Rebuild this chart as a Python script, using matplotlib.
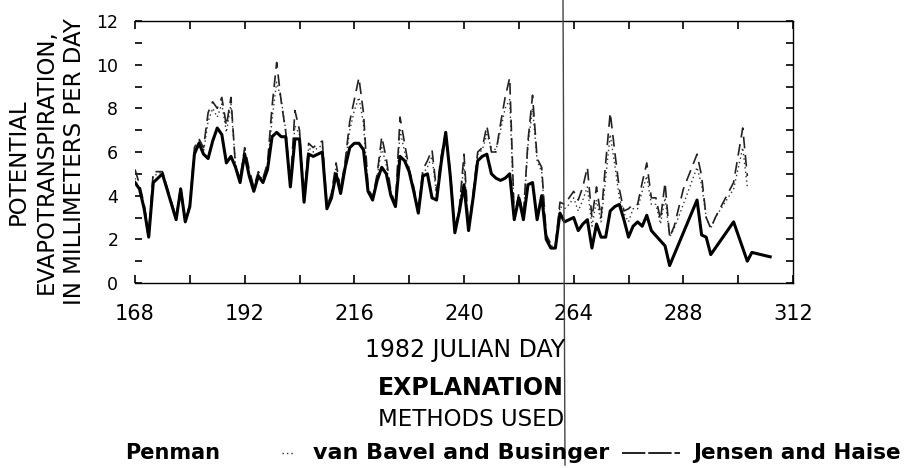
import matplotlib
matplotlib.use("Agg")
import matplotlib.pyplot as plt
from matplotlib.lines import Line2D
from matplotlib.ticker import MultipleLocator

plt.rcParams['font.family'] = ['DejaVu Sans']

# ---------------- data ----------------
jh_days = [168, 169, 170, 171, 172, 173, 174, 175, 176, 177, 178, 179, 180, 181, 182,
           183, 184, 185, 186, 187, 188, 189, 190, 191, 192, 193, 194, 195, 196, 197,
           198, 199, 200, 201, 202, 203, 204, 205, 206, 207, 208, 209, 210, 211, 212,
           213, 214, 215, 216, 217, 218, 219, 220, 221, 222, 223, 224, 225, 226, 227,
           228, 229, 230, 231, 232, 233, 234, 235, 236, 237, 238, 239, 240, 241, 242,
           243, 244, 245, 246, 247, 248, 249, 250, 251, 252, 253, 254, 255, 256, 257,
           258, 259, 260, 261, 262, 263, 264, 265, 266, 267, 268, 269, 270, 271, 272,
           273, 274, 275, 276, 277, 278, 279, 280, 281, 284, 285, 291, 292, 293, 294,
           299, 302, 303, 307]
jensen_haise = [4.6, 4.3, 3.4, 2.1, 4.6, 4.8, 5.0, 4.3, 3.6, 2.9, 4.3, 2.8, 3.5, 5.9, 6.4,
                5.9, 5.7, 6.5, 7.1, 6.8, 5.5, 5.8, 5.3, 4.6, 5.9, 4.9, 4.2, 4.9, 4.6, 5.2,
                6.7, 6.9, 6.7, 6.7, 4.4, 6.6, 6.6, 3.7, 5.9, 5.8, 5.9, 6.0, 3.4, 3.9, 5.0,
                4.1, 5.3, 6.2, 6.4, 6.4, 6.1, 4.2, 3.8, 4.7, 5.3, 5.0, 4.0, 3.5, 5.8, 5.6,
                5.1, 4.2, 3.2, 4.9, 5.0, 3.9, 3.8, 5.5, 6.9, 4.9, 2.3, 3.3, 4.5, 2.4, 3.9,
                5.6, 5.8, 5.9, 5.0, 4.8, 4.7, 4.8, 5.0, 2.9, 3.9, 2.9, 4.5, 4.6, 2.9, 4.0,
                2.0, 1.6, 1.6, 3.2, 2.8, 2.9, 3.0, 2.4, 2.7, 2.9, 1.6, 2.7, 2.1, 2.1, 3.3,
                3.5, 3.6, 2.9, 2.1, 2.6, 2.8, 2.6, 3.1, 2.4, 1.7, 0.8, 3.8, 2.2, 2.1, 1.3,
                2.8, 1.0, 1.4, 1.2]

other_days = [168, 169, 170, 171, 172, 173, 174, 175, 176, 177, 178, 179, 180, 181, 182,
              183, 184, 185, 186, 187, 188, 189, 190, 191, 192, 193, 194, 195, 196, 197,
              198, 199, 200, 201, 202, 203, 204, 205, 206, 207, 208, 209, 210, 211, 212,
              213, 214, 215, 216, 217, 218, 219, 220, 221, 222, 223, 224, 225, 226, 227,
              228, 229, 230, 231, 232, 233, 234, 235, 236, 237, 238, 239, 240, 241, 242,
              243, 244, 245, 246, 247, 248, 249, 250, 251, 252, 253, 254, 255, 256, 257,
              258, 259, 260, 261, 262, 263, 264, 265, 266, 267, 268, 269, 270, 271, 272,
              273, 274, 275, 276, 277, 278, 279, 280, 281, 282, 283, 284, 285, 286, 288,
              291, 292, 293, 294, 295, 299, 301, 302]
van_bavel = [5.2, 4.5, 3.6, 2.3, 5.1, 5.1, 5.1, 4.4, 3.7, 3.0, 4.4, 2.9, 3.6, 6.2, 6.6,
             6.2, 7.8, 8.3, 8.0, 8.5, 7.2, 8.5, 5.3, 4.8, 6.2, 5.2, 4.4, 5.1, 4.8, 5.5,
             8.1, 10.1, 8.3, 6.9, 4.5, 7.9, 7.0, 3.8, 6.4, 6.2, 6.4, 6.5, 3.5, 4.1, 5.5,
             4.3, 5.6, 7.4, 8.4, 9.4, 7.8, 4.4, 3.9, 5.0, 6.7, 5.7, 4.2, 3.6, 7.6, 6.4,
             5.2, 4.4, 3.3, 5.2, 5.6, 6.1, 4.2, 5.8, 6.9, 5.1, 2.4, 3.5, 5.9, 2.5, 4.1,
             6.0, 6.2, 7.2, 6.0, 6.0, 7.3, 8.5, 9.4, 3.0, 4.1, 3.1, 6.5, 8.6, 5.7, 5.3,
             2.2, 1.8, 1.7, 3.7, 3.6, 3.9, 4.2, 3.8, 4.4, 5.3, 3.0, 4.4, 3.0, 5.5, 7.8,
             6.0, 4.3, 3.3, 3.4, 3.6, 3.6, 4.6, 5.5, 3.9, 3.9, 2.9, 4.6, 2.1, 2.6, 4.3,
             5.9, 4.9, 3.0, 2.5, 3.0, 4.6, 7.1, 4.9]
penman = [4.8, 4.2, 3.5, 2.2, 4.9, 5.0, 5.1, 4.4, 3.7, 3.0, 4.4, 2.9, 3.6, 6.0, 6.5,
          6.0, 7.4, 8.0, 7.6, 8.2, 6.9, 8.2, 5.4, 4.7, 6.0, 5.0, 4.3, 5.0, 4.7, 5.3,
          7.5, 9.2, 8.4, 7.0, 4.5, 7.2, 6.8, 3.8, 6.2, 6.0, 6.2, 6.3, 3.5, 4.0, 5.3,
          4.2, 5.5, 7.0, 7.9, 8.5, 7.3, 4.3, 3.9, 4.9, 6.2, 5.4, 4.1, 3.6, 7.0, 6.0,
          5.1, 4.3, 3.3, 5.0, 5.3, 5.8, 4.0, 5.6, 6.8, 5.0, 2.4, 3.4, 5.5, 2.5, 4.0,
          5.9, 6.1, 6.8, 6.2, 6.1, 7.0, 8.0, 8.4, 3.0, 4.0, 3.0, 6.3, 8.0, 5.6, 5.1,
          2.1, 1.7, 1.7, 3.5, 3.4, 3.6, 3.9, 3.3, 3.8, 4.4, 2.6, 3.8, 2.8, 4.8, 6.8,
          5.4, 3.9, 3.2, 2.8, 3.4, 3.4, 4.2, 4.9, 3.6, 3.6, 2.7, 3.9, 2.1, 2.5, 3.6,
          5.3, 4.5, 3.0, 2.5, 3.0, 4.3, 6.2, 4.4]

x_ticks = [168, 192, 216, 240, 264, 288, 312]
y_ticks = [0, 2, 4, 6, 8, 10, 12]

# ---------------- figure ----------------
W, H = 914, 468
fig = plt.figure(figsize=(W / 100, H / 100), dpi=100)
ax = fig.add_axes([135 / W, 1 - 283 / H, (793 - 135) / W, (283 - 21) / H])

ax.plot(other_days, penman, color='#333333', lw=1.0, ls=(0, (1, 2.2)))
ax.plot(other_days, van_bavel, color='#222222', lw=1.2, ls=(0, (7, 4)))
ax.plot(jh_days, jensen_haise, color='black', lw=2.2, solid_joinstyle='round')

ax.set_xlim(168, 312)
ax.set_ylim(0, 12)
ax.set_xticks(x_ticks)
ax.set_yticks(y_ticks)
ax.xaxis.set_minor_locator(MultipleLocator(12))
ax.yaxis.set_minor_locator(MultipleLocator(1))
ax.tick_params(axis='x', which='both', direction='in', top=True, bottom=True,
               length=6, width=1.2, labelsize=15, pad=15)
ax.tick_params(axis='y', which='both', direction='in', left=True, right=True,
               length=5, width=1.2, labelsize=12.5, pad=12)
for side in ['top', 'bottom', 'right']:
    ax.spines[side].set_linewidth(1.0)
ax.spines['left'].set_visible(False)

fig.text(46 / W, 1 - 162 / H,
         "POTENTIAL\nEVAPOTRANSPIRATION,\nIN MILLIMETERS PER DAY",
         rotation=90, ha='center', va='center', multialignment='center',
         fontsize=16.5, linespacing=1.28)

fig.text(465 / W, 1 - 350 / H, "1982 JULIAN DAY", ha='center', va='center', fontsize=17)
fig.text(471 / W, 1 - 388 / H, "EXPLANATION", ha='center', va='center', fontsize=17,
         fontweight='bold')
fig.text(471 / W, 1 - 420 / H, "METHODS USED", ha='center', va='center', fontsize=16.5)

# legend row (label followed by its line sample)
ly = 1 - 453 / H
fig.text(125 / W, ly, "Penman", ha='left', va='center', fontsize=15, fontweight='bold')
fig.add_artist(Line2D([282 / W, 294 / W], [ly, ly], transform=fig.transFigure,
                      color='#333333', lw=1.0, ls=(0, (1, 2.2))))
fig.text(313 / W, ly, "van Bavel and Businger", ha='left', va='center', fontsize=16,
         fontweight='bold')
fig.add_artist(Line2D([622 / W, 680 / W], [ly, ly], transform=fig.transFigure,
                      color='#222222', lw=1.4, ls=(0, (12, 1.5))))
fig.text(693 / W, ly, "Jensen and Haise", ha='left', va='center', fontsize=15.5,
         fontweight='bold')

# vertical scan line crossing the figure
fig.add_artist(Line2D([563 / W, 565 / W], [1.0, 1 - 465 / H], transform=fig.transFigure,
                      color='#444444', lw=1.0))

fig.savefig("out.png", dpi=100)
